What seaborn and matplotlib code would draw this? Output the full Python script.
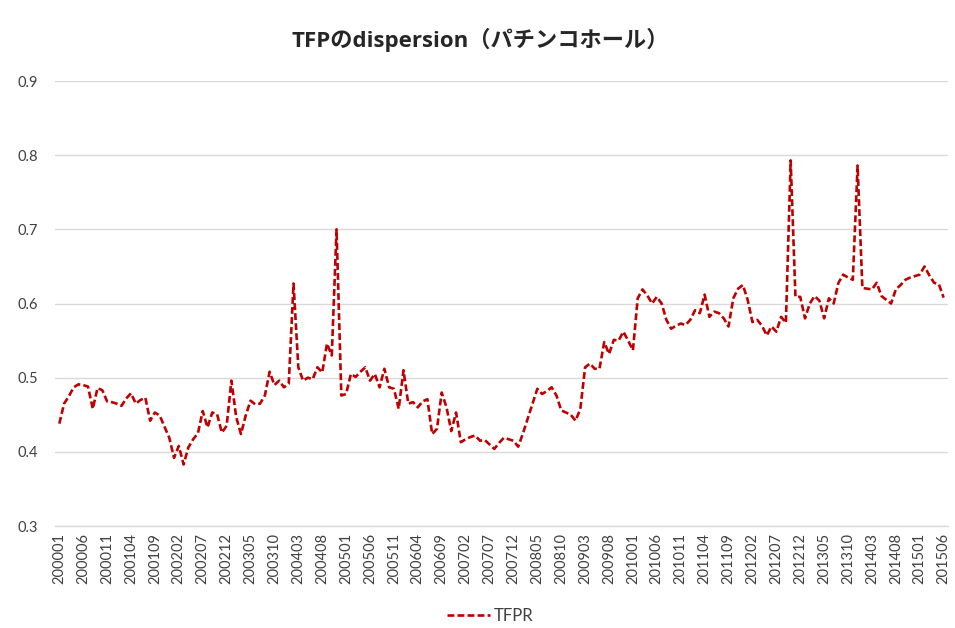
import numpy as np
import pandas as pd
import matplotlib
matplotlib.use('Agg')
import matplotlib.pyplot as plt
import seaborn as sns

# monthly periods 200001 .. 201506
periods = [f'{y}{m:02d}' for y in range(2000, 2016) for m in range(1, 13)][:186]

# TFPR dispersion
tfpr = [
    0.438, 0.465, 0.475, 0.487, 0.491, 0.490, 0.488, 0.458, 0.486, 0.483,  # 2000
    0.468, 0.467, 0.465, 0.462, 0.472, 0.479, 0.465, 0.470, 0.473, 0.442,
    0.453, 0.449, 0.434, 0.419, 0.392, 0.408, 0.383, 0.406, 0.417, 0.425,
    0.455, 0.433, 0.453, 0.451, 0.426, 0.435, 0.496, 0.447, 0.424, 0.449,
    0.469, 0.464, 0.465, 0.476, 0.508, 0.490, 0.496, 0.487, 0.492, 0.627,
    0.514, 0.496, 0.500, 0.498, 0.514, 0.507, 0.546, 0.530, 0.700, 0.476,
    0.478, 0.505, 0.501, 0.508, 0.514, 0.496, 0.505, 0.487, 0.512, 0.487,
    0.485, 0.458, 0.510, 0.465, 0.467, 0.460, 0.468, 0.471, 0.424, 0.431,
    0.480, 0.460, 0.428, 0.453, 0.413, 0.417, 0.420, 0.422, 0.415, 0.416,
    0.410, 0.404, 0.412, 0.419, 0.417, 0.415, 0.407, 0.425, 0.445, 0.465,
    0.485, 0.478, 0.482, 0.487, 0.476, 0.456, 0.453, 0.450, 0.442, 0.458,
    0.514, 0.519, 0.512, 0.512, 0.548, 0.532, 0.551, 0.550, 0.562, 0.550,
    0.537, 0.607, 0.619, 0.611, 0.600, 0.609, 0.600, 0.578, 0.566, 0.570,
    0.573, 0.571, 0.578, 0.591, 0.587, 0.612, 0.582, 0.589, 0.587, 0.580,
    0.569, 0.607, 0.620, 0.625, 0.605, 0.575, 0.578, 0.570, 0.557, 0.569,
    0.562, 0.582, 0.574, 0.793, 0.609, 0.609, 0.580, 0.600, 0.610, 0.604,
    0.580, 0.607, 0.600, 0.628, 0.639, 0.635, 0.632, 0.786, 0.621, 0.620,
    0.619, 0.628, 0.610, 0.605, 0.600, 0.619, 0.625, 0.632, 0.635, 0.637,
    0.639, 0.650, 0.638, 0.628, 0.626, 0.608,
]

y_ticks = [0.3, 0.4, 0.5, 0.6, 0.7, 0.8, 0.9]

df = pd.DataFrame({'pos': np.arange(len(tfpr)), 'period': periods, 'TFPR': tfpr})

sns.set_theme(style='white')
plt.rcParams['font.family'] = ['Lato', 'Noto Sans CJK JP', 'DejaVu Sans']

fig = plt.figure(figsize=(9.55, 6.28), dpi=100)
ax = fig.add_axes([0.0576, 0.1624, 0.935, 0.7086])

sns.lineplot(data=df, x='pos', y='TFPR', ax=ax, color='#C00000',
             linewidth=1.9, linestyle=(0, (2.6, 1.2)), label='TFPR')

ax.set_xlim(-0.9, len(tfpr) - 0.1)
ax.set_ylim(0.3, 0.9)
ax.set_yticks(y_ticks)
ax.set_yticklabels([f'{v:.1f}' for v in y_ticks])
ax.set_xticks(df['pos'][::5])
ax.set_xticklabels(df['period'][::5], rotation=90)
ax.tick_params(axis='both', length=0, labelsize=10.5, colors='#404040')
ax.tick_params(axis='y', pad=12)
ax.tick_params(axis='x', pad=5)

ax.grid(axis='y', color='#D9D9D9', linewidth=1.0)
ax.set_axisbelow(True)
for s in ['top', 'right', 'left']:
    ax.spines[s].set_visible(False)
ax.spines['bottom'].set_color('#D9D9D9')
ax.spines['bottom'].set_linewidth(1.0)
ax.set_xlabel('')
ax.set_ylabel('')

fig.suptitle('TFPのdispersion（パチンコホール）', x=0.503, y=0.955,
             fontsize=16, fontweight='bold', color='#262626',
             family=['Open Sans', 'Noto Sans CJK JP', 'DejaVu Sans'])

leg = ax.legend(loc='upper center', bbox_to_anchor=(0.487, -0.15), frameon=False,
                fontsize=12, handlelength=2.6, handletextpad=0.2)
for t in leg.get_texts():
    t.set_color('#404040')

fig.savefig('out.png', dpi=100)
